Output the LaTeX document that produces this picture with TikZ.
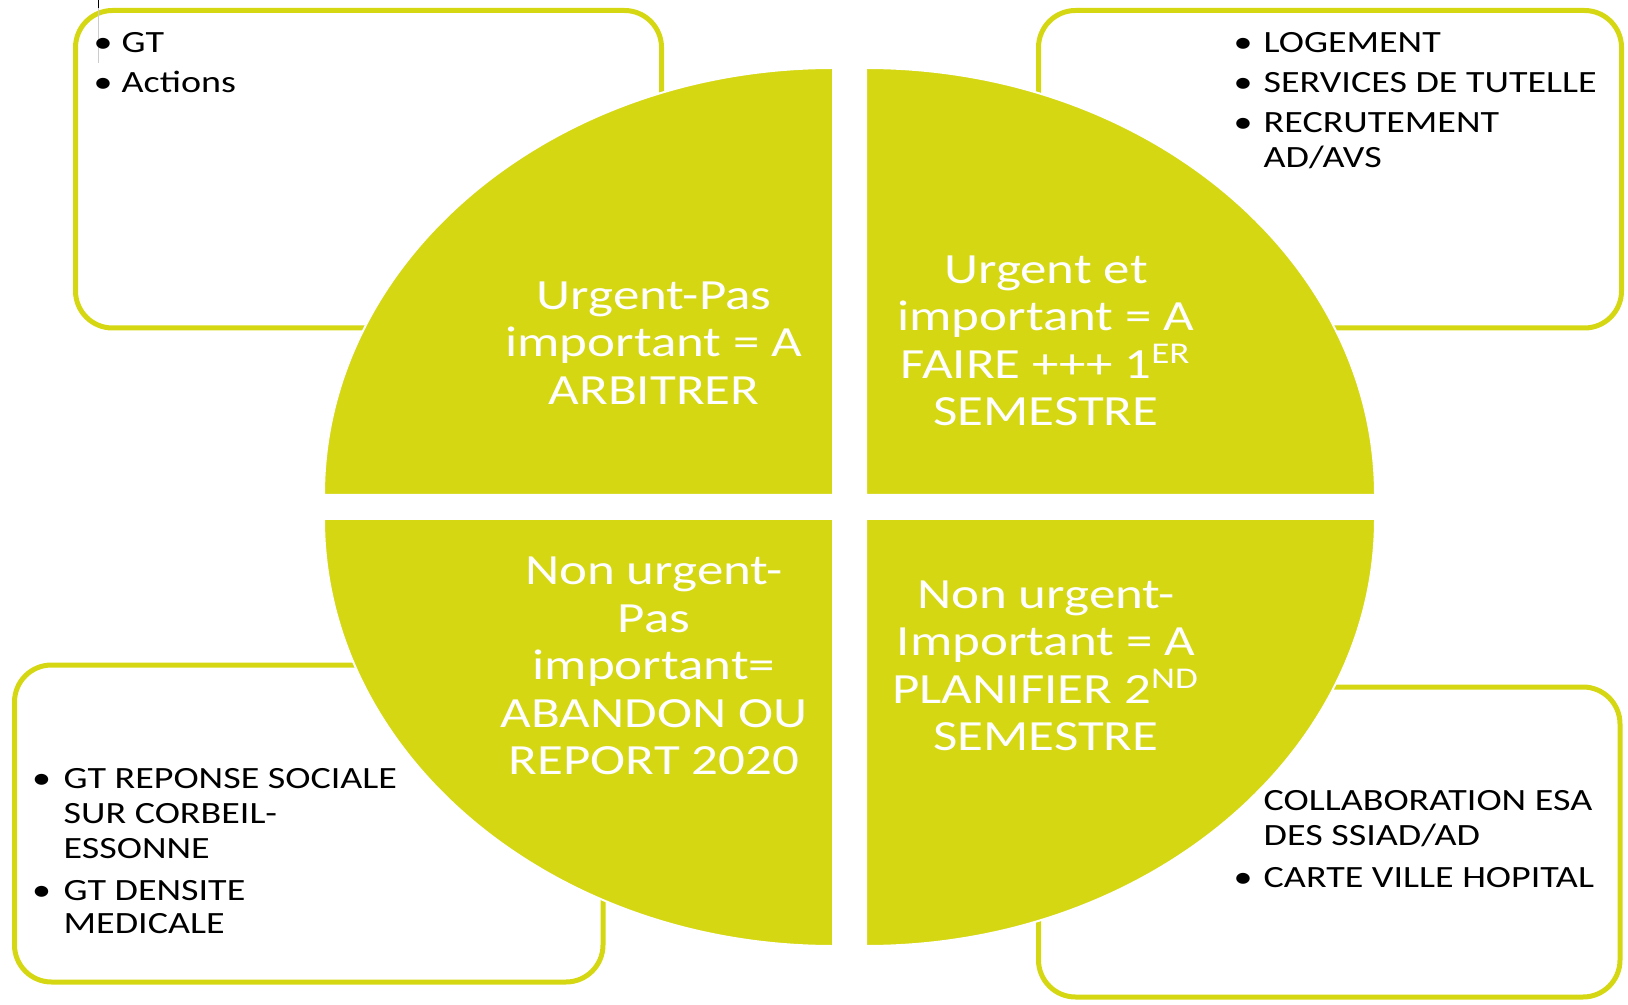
\documentclass[tikz,border=0pt]{standalone}
\usepackage{fontspec}
\setmainfont{Carlito}[FakeStretch=1.23]
\definecolor{anis}{RGB}{212,215,17}
\tikzset{
  cadre/.style={draw=anis, line width=0.05cm, rounded corners=0.37cm},
  quart/.style={fill=anis, draw=white, line width=0.02cm},
  titre/.style={text=white, align=center, inner sep=0pt, font=\fontsize{12.25}{13.5}\selectfont},
  puce/.style={anchor=base, inner sep=0pt, font=\fontsize{8.8}{10}\selectfont},
  ligne/.style={anchor=base west, inner sep=0pt, font=\fontsize{8.8}{10}\selectfont}
}
\begin{document}
\begin{tikzpicture}
  \useasboundingbox (0,0) rectangle (16.28,10.04);

  % Cadres autour du cercle
  \draw[cadre] (0.755,6.76) rectangle (6.615,9.935);
  \draw[cadre] (10.385,6.76) rectangle (16.215,9.935);
  \draw[cadre] (0.145,0.22) rectangle (6.03,3.39);
  \draw[cadre] (10.385,0.07) rectangle (16.2,3.17);

  % Curseur en haut a gauche
  \draw[gray!40, line width=0.01cm] (0.98,10.04) -- (0.98,9.41);
  \draw[line width=0.01cm] (0.98,10.04) -- (0.98,9.96);

  % Les quatre quarts du cercle
  \filldraw[quart] (8.33,5.09) -- (3.24,5.09) arc[start angle=180, end angle=90, x radius=5.09, y radius=4.27] -- cycle;
  \filldraw[quart] (8.66,5.09) -- (8.66,9.36) arc[start angle=90, end angle=0, x radius=5.09, y radius=4.27] -- cycle;
  \filldraw[quart] (8.33,4.85) -- (8.33,0.58) arc[start angle=270, end angle=180, x radius=5.09, y radius=4.27] -- cycle;
  \filldraw[quart] (8.66,4.85) -- (13.75,4.85) arc[start angle=0, end angle=-90, x radius=5.09, y radius=4.27] -- cycle;

  % Textes des quarts
  \node[titre] (arbitrer) at (6.54,6.61) {Urgent-Pas\\important = A\\ARBITRER};
  \node[titre] (faire) at (10.46,6.63) {Urgent et\\important = A\\FAIRE +++ 1\textsuperscript{ER}\\SEMESTRE};
  \node[titre] (abandon) at (6.54,3.38) {Non urgent-\\Pas\\important=\\ABANDON OU\\REPORT 2020};
  \node[titre] (planifier) at (10.46,3.38) {Non urgent-\\Important = A\\PLANIFIER 2\textsuperscript{ND}\\SEMESTRE};

  % Cadre en haut a gauche
  \node[puce] (p1) at (1.03,9.51) {•};
  \node[ligne] (gt) at (1.21,9.51) {GT};
  \node[puce] (p2) at (1.03,9.11) {•};
  \node[ligne] (actions) at (1.21,9.11) {Actions};

  % Cadre en haut a droite
  \node[puce] (p3) at (12.43,9.51) {•};
  \node[ligne] (logement) at (12.63,9.51) {LOGEMENT};
  \node[puce] (p4) at (12.43,9.11) {•};
  \node[ligne] (tutelle) at (12.63,9.11) {SERVICES DE TUTELLE};
  \node[puce] (p5) at (12.43,8.71) {•};
  \node[ligne] (recrut) at (12.63,8.71) {RECRUTEMENT};
  \node[ligne] (avs) at (12.63,8.36) {AD/AVS};

  % Cadre en bas a gauche
  \node[puce] (p6) at (0.415,2.16) {•};
  \node[ligne] (reponse) at (0.63,2.16) {GT REPONSE SOCIALE};
  \node[ligne] (corbeil) at (0.63,1.81) {SUR CORBEIL-};
  \node[ligne] (essonne) at (0.63,1.46) {ESSONNE};
  \node[puce] (p7) at (0.415,1.04) {•};
  \node[ligne] (densite) at (0.63,1.04) {GT DENSITE};
  \node[ligne] (medicale) at (0.63,0.71) {MEDICALE};

  % Cadre en bas a droite
  \node[ligne] (esa) at (12.63,1.94) {COLLABORATION ESA};
  \node[ligne] (ssiad) at (12.63,1.59) {DES SSIAD/AD};
  \node[puce] (p8) at (12.43,1.17) {•};
  \node[ligne] (carte) at (12.63,1.17) {CARTE VILLE HOPITAL};
\end{tikzpicture}
\end{document}
